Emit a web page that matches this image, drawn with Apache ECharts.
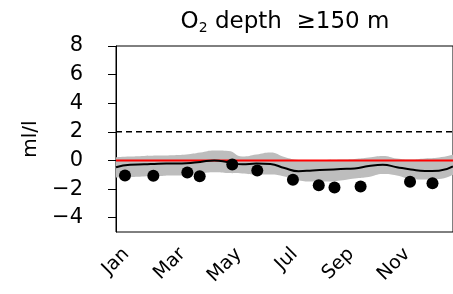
<!DOCTYPE html>
<html>
<head>
<meta charset="utf-8">
<script src="https://cdn.jsdelivr.net/npm/echarts@6/dist/echarts.min.js"></script>
<style>
  html, body { margin: 0; padding: 0; background: #fff; }
  #chart { width: 453px; height: 294px; }
</style>
</head>
<body>
<div id="chart"></div>
<script>
// 月份标签
const months = ['Jan', 'Feb', 'Mar', 'Apr', 'May', 'Jun', 'Jul', 'Aug', 'Sep', 'Oct', 'Nov', 'Dec']
const yTicks = [-4, -2, 0, 2, 4, 6, 8]

// 平滑曲线 + 置信带 (x 以月为单位, 0 = Jan)
const bandX = [0, 0.5, 1, 1.5, 2, 2.5, 3, 3.5, 4, 4.5, 5, 5.5, 6, 6.5, 7, 7.5, 8, 8.5, 9, 9.5, 10, 10.5, 11, 11.5, 12]
const meanY = [-0.47, -0.30, -0.27, -0.23, -0.21, -0.19, -0.10, 0.0, -0.12, -0.27, -0.21, -0.25, -0.53, -0.75, -0.70, -0.65, -0.60, -0.56, -0.39, -0.30, -0.47, -0.63, -0.74, -0.72, -0.42]
const upperY = [0.23, 0.28, 0.32, 0.35, 0.37, 0.42, 0.56, 0.70, 0.67, 0.28, 0.42, 0.56, 0.25, 0.04, 0.0, 0.04, 0.07, 0.11, 0.21, 0.32, 0.14, 0.07, 0.14, 0.21, 0.40]
const lowerY = [-1.19, -1.16, -1.12, -1.09, -1.05, -1.05, -0.91, -0.82, -0.88, -0.91, -0.98, -0.98, -1.12, -1.40, -1.47, -1.47, -1.40, -1.26, -1.16, -0.95, -1.05, -1.30, -1.33, -1.30, -1.00]

// 观测点
const dotX = [0.32, 1.33, 2.54, 2.98, 4.14, 5.03, 6.30, 7.22, 7.78, 8.71, 10.47, 11.27]
const dotY = [-1.05, -1.07, -0.84, -1.10, -0.28, -0.70, -1.35, -1.73, -1.89, -1.82, -1.49, -1.59]

// 参考线
const refX = [0, 12]
const zeroLine = [0, 0]
const threshold = [2, 2]

const font = 'DejaVu Sans, sans-serif'

function pairs(xs, ys) {
    let out = []
    for (let i = 0; i < xs.length; i++) {
        out.push([xs[i], ys[i]])
    }
    return out
}

// 置信带宽度 (堆叠在下界之上)
let bandWidth = []
for (let i = 0; i < bandX.length; i++) {
    bandWidth.push(upperY[i] - lowerY[i])
}

let option = {
    animation: false,
    title: {
        text: '{n|O}{s|2}{n| depth  ≥150 m}',
        left: 280,
        textAlign: 'center',
        top: 4,
        textStyle: {
            rich: {
                n: { fontSize: 23, fontWeight: 'normal', fontFamily: font, color: '#000' },
                s: { fontSize: 14, fontWeight: 'normal', fontFamily: font, color: '#000', verticalAlign: 'bottom', padding: [12, 0, 0, 0] }
            }
        }
    },
    grid: {
        left: 116, top: 46, right: -4, bottom: 62,
        show: true, borderColor: '#000', borderWidth: 1
    },
    xAxis: [
        {
            type: 'value',
            min: 0, max: 12, interval: 2,
            splitLine: { show: false },
            axisLine: { lineStyle: { color: '#000', width: 1 } },
            axisTick: { length: 8, lineStyle: { color: '#000' } },
            minorTick: { show: true, splitNumber: 2, length: 4, lineStyle: { color: '#000' } },
            axisLabel: {
                rotate: 45, margin: 9, fontSize: 19, fontFamily: font, color: '#000',
                align: 'right', verticalAlign: 'top', padding: [5, 0, 0, 0],
                showMaxLabel: false,
                formatter: v => months[v] || ''
            }
        },
        {
            // 置信带用的隐藏类目轴
            type: 'category', show: false, boundaryGap: false,
            data: bandX.map(String)
        }
    ],
    yAxis: {
        type: 'value',
        min: -5, max: 8,
        name: 'ml/l',
        nameLocation: 'middle',
        nameGap: 70,
        nameTextStyle: { fontSize: 20, fontFamily: font, color: '#000' },
        splitLine: { show: false },
        axisLine: { lineStyle: { color: '#000', width: 1 } },
        axisTick: { length: 8, customValues: yTicks, lineStyle: { color: '#000' } },
        axisLabel: {
            customValues: yTicks, margin: 33, fontSize: 21, fontFamily: font, color: '#000',
            formatter: v => String(v).replace('-', '\u2212')
        }
    },
    series: [
        {
            type: 'line', xAxisIndex: 1, stack: 'band', stackStrategy: 'all',
            data: lowerY, smooth: true, symbol: 'none',
            lineStyle: { opacity: 0 }, silent: true, z: 1
        },
        {
            type: 'line', xAxisIndex: 1, stack: 'band', stackStrategy: 'all',
            data: bandWidth, smooth: true, symbol: 'none',
            lineStyle: { opacity: 0 },
            areaStyle: { color: '#bdbdbd', opacity: 1 }, silent: true, z: 1
        },
        {
            type: 'line', data: pairs(refX, threshold), symbol: 'none', z: 3,
            lineStyle: { color: '#000', width: 1.5, type: [6, 4] }
        },
        {
            type: 'line', data: pairs(refX, zeroLine), symbol: 'none', z: 3,
            lineStyle: { color: '#ff0000', width: 2 }
        },
        {
            type: 'line', data: pairs(bandX, meanY), smooth: true, symbol: 'none', z: 4,
            lineStyle: { color: '#000', width: 2 }
        },
        {
            type: 'scatter', data: pairs(dotX, dotY), symbolSize: 12, z: 10,
            itemStyle: { color: '#000', opacity: 1 }
        }
    ]
}

let chart = echarts.init(document.getElementById('chart'))
chart.setOption(option)
</script>
</body>
</html>
